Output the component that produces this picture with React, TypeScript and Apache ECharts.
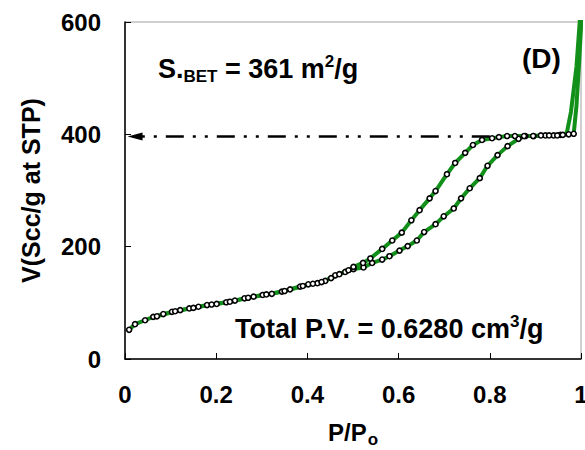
import React, { useEffect, useRef } from "react";
import * as echarts from "echarts";

// Adsorption branch (P/Po, V)
const adsX = [0.009, 0.022, 0.044, 0.062, 0.084, 0.103, 0.121, 0.141, 0.161, 0.18, 0.201, 0.222, 0.241, 0.262, 0.282, 0.302, 0.322, 0.344, 0.362, 0.384, 0.402, 0.422, 0.439, 0.461, 0.483,
  0.501, 0.523, 0.542, 0.564, 0.58, 0.602, 0.62, 0.64, 0.656, 0.681, 0.699, 0.721, 0.737, 0.756, 0.778, 0.795, 0.817, 0.839, 0.863, 0.878, 0.896, 0.922, 0.94, 0.955, 0.973, 0.984,
  0.99, 0.996, 1.002];
const adsY = [52, 62, 69, 75, 80, 84, 87, 90, 93, 96, 98, 101, 104, 108, 111, 114, 116, 120, 124, 129, 133, 135, 139, 149, 155,
  160, 163, 171, 177, 183, 193, 201, 211, 226, 240, 254, 268, 286, 304, 322, 344, 363, 379, 392, 397, 397, 398, 398, 399, 400, 401,
  450, 530, 620];

// Desorption branch (P/Po, V)
const desX = [0.999, 0.99, 0.978, 0.969, 0.96, 0.948, 0.93, 0.912, 0.895, 0.875, 0.855, 0.838, 0.82,
  0.805, 0.783, 0.763, 0.746, 0.724, 0.706, 0.681, 0.668, 0.646, 0.628, 0.607, 0.586, 0.564, 0.538, 0.522, 0.501,
  0.49, 0.47, 0.452, 0.431, 0.412, 0.39, 0.35, 0.31, 0.27, 0.23, 0.19, 0.15, 0.11, 0.07];
const desY = [620, 520, 440, 403, 399, 398, 398, 398, 397, 397, 397, 397, 395,
  393, 390, 381, 367, 349, 329, 299, 286, 265, 247, 225, 211, 196, 179, 171, 164,
  158, 151, 144, 137, 134, 130, 121, 115, 109, 102, 97, 91, 85, 76];

// Arrow to total pore volume level
const arrowX = [0.8, 0.022];
const arrowY = 396;

const xTicks = { min: 0, max: 1, interval: 0.2 };
const yTicks = { min: 0, max: 600, interval: 200 };

const FONT = "'Liberation Sans', Arial, sans-serif";
const GREEN = "#12901a";

function buildData(xs: number[], ys: number[]) {
  return xs.map((x, i) => {
    const y = ys[i];
    if (y > 402) return { value: [x, y], symbol: "none" };
    return { value: [x, y] };
  });
}

export default function App() {
  const ref = useRef<HTMLDivElement>(null);
  useEffect(() => {
    document.body.style.margin = "0";
    const chart = echarts.init(ref.current!, undefined, { renderer: "svg" });
    const lineSeries = (name: string, xs: number[], ys: number[]) => ({
      name,
      type: "line",
      data: buildData(xs, ys),
      symbol: "circle",
      symbolSize: 5,
      showAllSymbol: true,
      lineStyle: { color: GREEN, width: 4 },
      itemStyle: { color: "#fff", borderColor: "#000", borderWidth: 1.6 },
      z: 3,
      clip: true,
    });
    chart.setOption({
      animation: false,
      backgroundColor: "#fff",
      grid: {
        left: 125, right: 4, top: 22, bottom: 91,
        show: true, borderColor: "#a0a0a0", borderWidth: 1,
        containLabel: false, outerBoundsMode: "none",
      },
      xAxis: {
        type: "value",
        ...xTicks,
        name: "{a|P/P}{b|o}",
        nameLocation: "middle",
        nameGap: 67,
        nameTextStyle: {
          rich: {
            a: { fontFamily: FONT, fontWeight: "bold", fontSize: 24, color: "#000", lineHeight: 22, verticalAlign: "bottom", padding: [0, 0, 4, 0] },
            b: { fontFamily: FONT, fontWeight: "bold", fontSize: 17, color: "#000", lineHeight: 13, verticalAlign: "bottom", padding: [0, 0, 0, 1] },
          },
        },
        axisLine: { show: true, lineStyle: { color: "#000", width: 1.5 } },
        axisTick: { show: true, inside: true, length: 6, lineStyle: { color: "#000", width: 1 } },
        splitLine: { show: false },
        axisLabel: { fontFamily: FONT, fontWeight: "bold", fontSize: 24, color: "#000", margin: 23 },
      },
      yAxis: {
        type: "value",
        ...yTicks,
        name: "V(Scc/g at STP)",
        nameLocation: "middle",
        nameRotate: 90,
        nameGap: 82,
        nameTextStyle: { fontFamily: FONT, fontWeight: "bold", fontSize: 25, color: "#000" },
        axisLine: { show: true, lineStyle: { color: "#000", width: 1.5 } },
        axisTick: { show: true, inside: true, length: 6, lineStyle: { color: "#000", width: 1 } },
        splitLine: { show: false },
        axisLabel: { fontFamily: FONT, fontWeight: "bold", fontSize: 24, color: "#000", margin: 24 },
      },
      series: [
        {
          type: "line",
          data: [],
          z: 1,
          markLine: {
            silent: true,
            symbol: ["none", "triangle"],
            symbolSize: [8, 15],
            label: { show: false },
            lineStyle: { color: "#000", width: 2.5, type: [18, 9, 3, 9, 3, 9] },
            data: [[{ coord: [arrowX[0], arrowY] }, { coord: [arrowX[1], arrowY] }]],
          },
        },
        lineSeries("Adsorption", adsX, adsY),
        lineSeries("Desorption", desX, desY),
      ],
      graphic: [
        {
          type: "text",
          x: 158,
          y: 69,
          style: {
            text: "{a|S.}{b|BET}{a| = 361 m}{c|2}{a|/g}",
            verticalAlign: "middle",
            rich: {
              a: { fontFamily: FONT, fontWeight: "bold", fontSize: 27, fill: "#000", lineHeight: 32, verticalAlign: "middle" },
              b: { fontFamily: FONT, fontWeight: "bold", fontSize: 17, fill: "#000", lineHeight: 17, verticalAlign: "bottom" },
              c: { fontFamily: FONT, fontWeight: "bold", fontSize: 17, fill: "#000", lineHeight: 17, verticalAlign: "top" },
            },
          },
        },
        {
          type: "text",
          x: 522,
          y: 58,
          style: { text: "(D)", fontFamily: FONT, fontWeight: "bold", fontSize: 28, fill: "#000", verticalAlign: "middle" },
        },
        {
          type: "text",
          x: 235,
          y: 329,
          style: {
            text: "{a|Total P.V. = 0.6280 cm}{c|3}{a|/g}",
            verticalAlign: "middle",
            rich: {
              a: { fontFamily: FONT, fontWeight: "bold", fontSize: 27, fill: "#000", lineHeight: 32, verticalAlign: "middle" },
              c: { fontFamily: FONT, fontWeight: "bold", fontSize: 17, fill: "#000", lineHeight: 17, verticalAlign: "top" },
            },
          },
        },
      ],
    });
    return () => chart.dispose();
  }, []);
  return <div ref={ref} style={{ width: 585, height: 450 }} />;
}
